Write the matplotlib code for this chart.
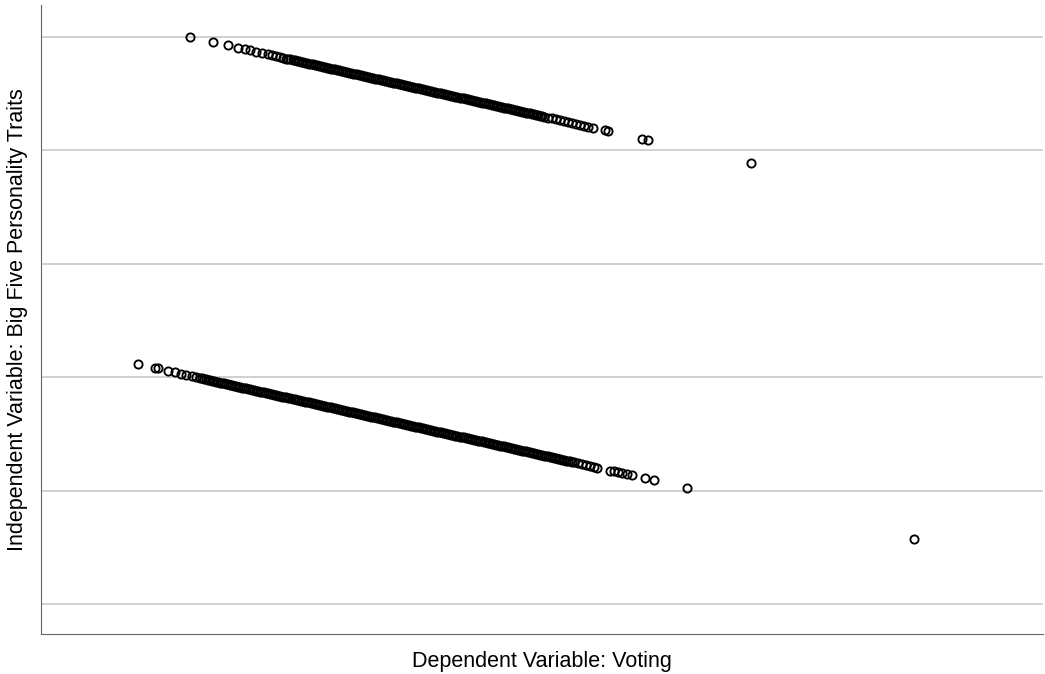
import matplotlib.pyplot as plt

# Upper cluster of points
top_x = [1.48, 1.71, 1.86, 1.96, 2.03, 2.08, 2.14, 2.20, 2.26, 2.30, 2.34, 2.38, 2.41, 2.44,
         2.46, 2.48, 2.50, 2.52, 2.54, 2.56, 2.58, 2.60, 2.62, 2.64,
         2.66, 2.68, 2.70, 2.72, 2.74, 2.76, 2.78, 2.80, 2.82, 2.84,
         2.86, 2.88, 2.90, 2.92, 2.94, 2.96, 2.98, 3.00, 3.02, 3.04,
         3.06, 3.08, 3.10, 3.12, 3.14, 3.16, 3.18, 3.20, 3.22, 3.24,
         3.26, 3.28, 3.30, 3.32, 3.34, 3.36, 3.38, 3.40, 3.42, 3.44,
         3.46, 3.48, 3.50, 3.52, 3.54, 3.56, 3.58, 3.60, 3.62, 3.64,
         3.66, 3.68, 3.70, 3.72, 3.74, 3.76, 3.78, 3.80, 3.82, 3.84,
         3.86, 3.88, 3.90, 3.92, 3.94, 3.96, 3.98, 4.00, 4.02, 4.04,
         4.06, 4.08, 4.10, 4.12, 4.14, 4.16, 4.18, 4.20, 4.22, 4.24,
         4.26, 4.28, 4.30, 4.32, 4.34, 4.36, 4.38, 4.40, 4.42, 4.44,
         4.46, 4.48, 4.50, 4.52, 4.54, 4.56, 4.58, 4.60, 4.62, 4.64,
         4.66, 4.68, 4.70, 4.72, 4.74, 4.76, 4.78, 4.80, 4.82, 4.84,
         4.86, 4.88, 4.90, 4.92, 4.94, 4.96, 4.98, 5.00,
         5.04, 5.08, 5.12, 5.16, 5.20, 5.24, 5.28, 5.32, 5.36, 5.40, 5.44, 5.49,
         5.61, 5.64, 5.97, 6.03, 7.06]
top_y = [5.000, 4.954, 4.924, 4.904, 4.890, 4.880, 4.868, 4.856, 4.844, 4.836, 4.828, 4.820, 4.814, 4.808,
         4.804, 4.800, 4.796, 4.792, 4.788, 4.784, 4.780, 4.776, 4.772, 4.768,
         4.764, 4.760, 4.756, 4.752, 4.748, 4.744, 4.740, 4.736, 4.732, 4.728,
         4.724, 4.720, 4.716, 4.712, 4.708, 4.704, 4.700, 4.696, 4.692, 4.688,
         4.684, 4.680, 4.676, 4.672, 4.668, 4.664, 4.660, 4.656, 4.652, 4.648,
         4.644, 4.640, 4.636, 4.632, 4.628, 4.624, 4.620, 4.616, 4.612, 4.608,
         4.604, 4.600, 4.596, 4.592, 4.588, 4.584, 4.580, 4.576, 4.572, 4.568,
         4.564, 4.560, 4.556, 4.552, 4.548, 4.544, 4.540, 4.536, 4.532, 4.528,
         4.524, 4.520, 4.516, 4.512, 4.508, 4.504, 4.500, 4.496, 4.492, 4.488,
         4.484, 4.480, 4.476, 4.472, 4.468, 4.464, 4.460, 4.456, 4.452, 4.448,
         4.444, 4.440, 4.436, 4.432, 4.428, 4.424, 4.420, 4.416, 4.412, 4.408,
         4.404, 4.400, 4.396, 4.392, 4.388, 4.384, 4.380, 4.376, 4.372, 4.368,
         4.364, 4.360, 4.356, 4.352, 4.348, 4.344, 4.340, 4.336, 4.332, 4.328,
         4.324, 4.320, 4.316, 4.312, 4.308, 4.304, 4.300, 4.296,
         4.288, 4.280, 4.272, 4.264, 4.256, 4.248, 4.240, 4.232, 4.224, 4.216, 4.208, 4.198,
         4.174, 4.168, 4.102, 4.090, 3.884]

# Lower cluster of points
bottom_x = [0.96, 1.13, 1.16, 1.26, 1.33, 1.39, 1.44, 1.50, 1.54,
            1.58, 1.60, 1.62, 1.64, 1.66, 1.68, 1.70, 1.72, 1.74, 1.76,
            1.78, 1.80, 1.82, 1.84, 1.86, 1.88, 1.90, 1.92, 1.94, 1.96,
            1.98, 2.00, 2.02, 2.04, 2.06, 2.08, 2.10, 2.12, 2.14, 2.16,
            2.18, 2.20, 2.22, 2.24, 2.26, 2.28, 2.30, 2.32, 2.34, 2.36,
            2.38, 2.40, 2.42, 2.44, 2.46, 2.48, 2.50, 2.52, 2.54, 2.56,
            2.58, 2.60, 2.62, 2.64, 2.66, 2.68, 2.70, 2.72, 2.74, 2.76,
            2.78, 2.80, 2.82, 2.84, 2.86, 2.88, 2.90, 2.92, 2.94, 2.96,
            2.98, 3.00, 3.02, 3.04, 3.06, 3.08, 3.10, 3.12, 3.14, 3.16,
            3.18, 3.20, 3.22, 3.24, 3.26, 3.28, 3.30, 3.32, 3.34, 3.36,
            3.38, 3.40, 3.42, 3.44, 3.46, 3.48, 3.50, 3.52, 3.54, 3.56,
            3.58, 3.60, 3.62, 3.64, 3.66, 3.68, 3.70, 3.72, 3.74, 3.76,
            3.78, 3.80, 3.82, 3.84, 3.86, 3.88, 3.90, 3.92, 3.94, 3.96,
            3.98, 4.00, 4.02, 4.04, 4.06, 4.08, 4.10, 4.12, 4.14, 4.16,
            4.18, 4.20, 4.22, 4.24, 4.26, 4.28, 4.30, 4.32, 4.34, 4.36,
            4.38, 4.40, 4.42, 4.44, 4.46, 4.48, 4.50, 4.52, 4.54, 4.56,
            4.58, 4.60, 4.62, 4.64, 4.66, 4.68, 4.70, 4.72, 4.74, 4.76,
            4.78, 4.80, 4.82, 4.84, 4.86, 4.88, 4.90, 4.92, 4.94, 4.96,
            4.98, 5.00, 5.02, 5.04, 5.06, 5.08, 5.10, 5.12, 5.14, 5.16,
            5.18, 5.20, 5.22, 5.24, 5.26, 5.28, 5.30,
            5.34, 5.38, 5.42, 5.46, 5.50, 5.53, 5.66, 5.70, 5.74, 5.78, 5.82, 5.87,
            6.00, 6.09, 6.42, 8.68]
bottom_y = [2.116, 2.082, 2.076, 2.056, 2.042, 2.030, 2.020, 2.008, 2.000,
            1.992, 1.988, 1.984, 1.980, 1.976, 1.972, 1.968, 1.964, 1.960, 1.956,
            1.952, 1.948, 1.944, 1.940, 1.936, 1.932, 1.928, 1.924, 1.920, 1.916,
            1.912, 1.908, 1.904, 1.900, 1.896, 1.892, 1.888, 1.884, 1.880, 1.876,
            1.872, 1.868, 1.864, 1.860, 1.856, 1.852, 1.848, 1.844, 1.840, 1.836,
            1.832, 1.828, 1.824, 1.820, 1.816, 1.812, 1.808, 1.804, 1.800, 1.796,
            1.792, 1.788, 1.784, 1.780, 1.776, 1.772, 1.768, 1.764, 1.760, 1.756,
            1.752, 1.748, 1.744, 1.740, 1.736, 1.732, 1.728, 1.724, 1.720, 1.716,
            1.712, 1.708, 1.704, 1.700, 1.696, 1.692, 1.688, 1.684, 1.680, 1.676,
            1.672, 1.668, 1.664, 1.660, 1.656, 1.652, 1.648, 1.644, 1.640, 1.636,
            1.632, 1.628, 1.624, 1.620, 1.616, 1.612, 1.608, 1.604, 1.600, 1.596,
            1.592, 1.588, 1.584, 1.580, 1.576, 1.572, 1.568, 1.564, 1.560, 1.556,
            1.552, 1.548, 1.544, 1.540, 1.536, 1.532, 1.528, 1.524, 1.520, 1.516,
            1.512, 1.508, 1.504, 1.500, 1.496, 1.492, 1.488, 1.484, 1.480, 1.476,
            1.472, 1.468, 1.464, 1.460, 1.456, 1.452, 1.448, 1.444, 1.440, 1.436,
            1.432, 1.428, 1.424, 1.420, 1.416, 1.412, 1.408, 1.404, 1.400, 1.396,
            1.392, 1.388, 1.384, 1.380, 1.376, 1.372, 1.368, 1.364, 1.360, 1.356,
            1.352, 1.348, 1.344, 1.340, 1.336, 1.332, 1.328, 1.324, 1.320, 1.316,
            1.312, 1.308, 1.304, 1.300, 1.296, 1.292, 1.288, 1.284, 1.280, 1.276,
            1.272, 1.268, 1.264, 1.260, 1.256, 1.252, 1.248,
            1.240, 1.232, 1.224, 1.216, 1.208, 1.202, 1.176, 1.168, 1.160, 1.152, 1.144, 1.134,
            1.108, 1.090, 1.024, 0.572]

grid_levels = [0, 1, 2, 3, 4, 5]

x_label = 'Dependent Variable: Voting'
y_label = 'Independent Variable: Big Five Personality Traits'

plt.rcParams['font.family'] = ['Liberation Sans', 'DejaVu Sans']

fig = plt.figure(figsize=(10.45, 6.74), dpi=100)
ax = fig.add_axes([41 / 1045, 40 / 674, 1002 / 1045, 629 / 674])

# Gridlines only, no tick labels
ax.set_yticks(grid_levels)
ax.set_xticks([])
ax.yaxis.grid(True, color='#c4c4c4', linewidth=1.1)
ax.set_axisbelow(True)
ax.tick_params(axis='y', length=0, labelleft=False)

marker_style = dict(linestyle='none', marker='o', markersize=5.9,
                    markerfacecolor='none', markeredgecolor='black',
                    markeredgewidth=1.35)
ax.plot(top_x, top_y, **marker_style)
ax.plot(bottom_x, bottom_y, **marker_style)

ax.set_xlim(0, 9.96)
ax.set_ylim(-0.265, 5.28)

ax.spines['top'].set_visible(False)
ax.spines['right'].set_visible(False)
ax.spines['left'].set_color('#666666')
ax.spines['bottom'].set_color('#666666')

ax.set_xlabel(x_label, fontsize=15.5, labelpad=12)
ax.set_ylabel(y_label, fontsize=15.5, labelpad=9)

fig.savefig('out.png', dpi=100)
